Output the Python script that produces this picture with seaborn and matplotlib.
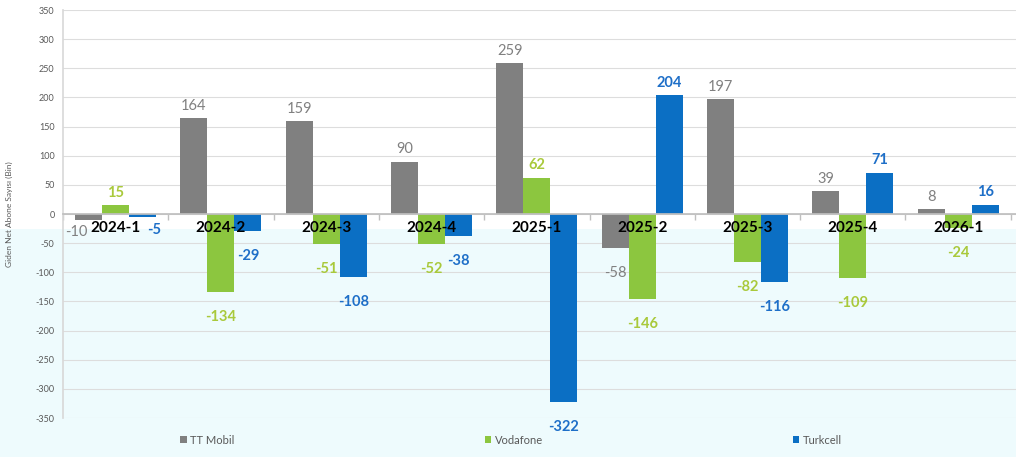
import numpy as np
import pandas as pd
import matplotlib
matplotlib.use("Agg")
import matplotlib.pyplot as plt
import seaborn as sns
from matplotlib.patches import Rectangle

quarters = ["2024-1", "2024-2", "2024-3", "2024-4", "2025-1",
            "2025-2", "2025-3", "2025-4", "2026-1"]
tt_mobil = [-10, 164, 159, 90, 259, -58, 197, 39, 8]
vodafone = [15, -134, -51, -52, 62, -146, -82, -109, -24]
turkcell = [-5, -29, -108, -38, -322, 204, -116, 71, 16]
operators = ["TT Mobil", "Vodafone", "Turkcell"]
y_ticks = list(range(-350, 351, 50))
y_label = "Giden Net Abone Sayısı (Bin)"

bar_colors = ["#808080", "#8CC63F", "#0B6FC4"]
label_colors = ["#808080", "#A9C93B", "#1E6FC8"]
label_weights = ["normal", "bold", "bold"]
side_shift = [-9, 0, 8]

df = pd.DataFrame({
    "Çeyrek": quarters * 3,
    "Operatör": np.repeat(operators, len(quarters)),
    "Değer": tt_mobil + vodafone + turkcell,
})

sns.set_theme(style="white")
plt.rcParams["font.family"] = ["Lato", "DejaVu Sans"]

fig = plt.figure(figsize=(10.16, 4.57), dpi=100)
fig.patch.set_facecolor("white")
fig.add_artist(Rectangle((0, 0), 1, (457 - 229) / 457, transform=fig.transFigure,
                         facecolor="#EEFBFD", edgecolor="none", zorder=-5))

ax = fig.add_axes([0.062, 0.0853, 0.938, 0.8927])
ax.set_facecolor("none")

sns.barplot(data=df, x="Çeyrek", y="Değer", hue="Operatör", hue_order=operators,
            order=quarters, palette=bar_colors, width=0.77, saturation=1,
            linewidth=0, ax=ax, legend=True)

handles, labels = ax.get_legend_handles_labels()
if ax.legend_ is not None:
    ax.legend_.remove()

for cont, vals, col, w, sh in zip(ax.containers, [tt_mobil, vodafone, turkcell],
                                  label_colors, label_weights, side_shift):
    near = [str(v) if v > -20 else "" for v in vals]
    far = [str(v) if v <= -20 else "" for v in vals]
    texts = ax.bar_label(cont, labels=near, padding=4, color=col,
                         fontsize=10.5, fontweight=w, zorder=6)
    for t, v in zip(texts, vals):
        if -20 < v < 0:
            x0, y0 = t.xyann
            t.xyann = (x0 + sh, y0)
    ax.bar_label(cont, labels=far, padding=13, color=col,
                 fontsize=10.5, fontweight=w, zorder=6)

ax.set_xlim(-0.5, 8.55)
ax.set_ylim(-350, 350)
ax.set_yticks(y_ticks)
ax.set_yticklabels([str(t) for t in y_ticks])
ax.tick_params(axis="y", length=0, labelsize=6.5, labelcolor="#595959", pad=6)
ax.yaxis.grid(True, color="#DDDDDD", linewidth=0.8)
ax.set_axisbelow(True)

ax.spines["bottom"].set_position(("data", 0))
ax.spines["bottom"].set_color("#BFBFBF")
ax.spines["left"].set_color("#D9D9D9")
ax.spines["top"].set_visible(False)
ax.spines["right"].set_visible(False)
ax.set_xticks(range(len(quarters)))
ax.set_xticklabels([])
ax.set_xticks(np.arange(-0.5, len(quarters), 1), minor=True)
ax.tick_params(axis="x", which="major", length=0)
ax.tick_params(axis="x", which="minor", length=4, color="#BFBFBF", direction="out", bottom=True)
ax.set_xlabel("")

for i, q in enumerate(quarters):
    ax.annotate(q, xy=(i, 0), xytext=(0, -5), textcoords="offset points",
                ha="center", va="top", fontsize=11, fontweight="bold",
                color="black", zorder=7)

ax.set_ylabel(y_label, fontsize=6, color="#595959")
ax.yaxis.set_label_coords(-0.052, 0.5)

fig.legend(handles, labels, loc="center", bbox_to_anchor=(0.503, (457 - 440) / 457),
           ncol=3, frameon=False, fontsize=8, handlelength=0.6, handleheight=0.6,
           handletextpad=0.3, columnspacing=22.5, labelcolor="#595959")

fig.savefig("out.png", dpi=100)
